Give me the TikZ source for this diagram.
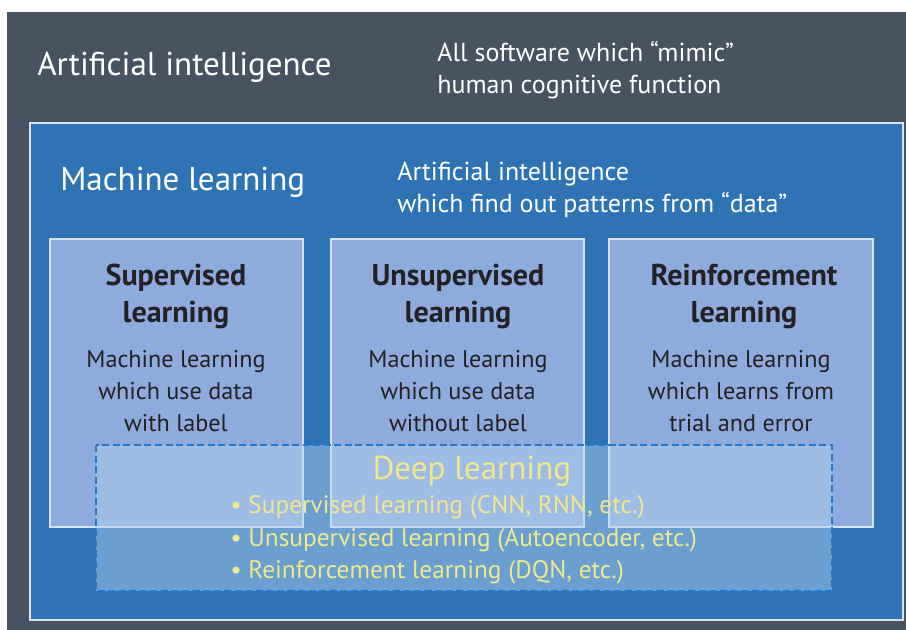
\documentclass[tikz,border=0pt]{standalone}
\usepackage{fontspec}
\setmainfont{PT Sans}
\usetikzlibrary{positioning}

\definecolor{aigray}{HTML}{475361}
\definecolor{mlblue}{HTML}{2E74B5}
\definecolor{boxblue}{HTML}{8FAADC}
\definecolor{dlline}{HTML}{1E7BD0}
\definecolor{dlfill}{HTML}{B4D4F2}
\definecolor{dltext}{HTML}{F0E88E}
\definecolor{edgeline}{HTML}{D6E2EE}
\definecolor{boxtext}{HTML}{222222}

\begin{document}
\begin{tikzpicture}
[x=0.025cm,y=-0.025cm,
 bigtext/.style={text=white,font=\fontsize{23.5}{27}\selectfont,inner sep=0pt},
 desctext/.style={text=white,font=\fontsize{18.5}{22.8}\selectfont,align=left,inner sep=0pt},
 lbox/.style={draw=edgeline,line width=1pt,fill=boxblue},
 boxtitle/.style={text=boxtext,font=\fontsize{21.4}{26.3}\selectfont\bfseries,align=center,inner sep=0pt},
 boxdesc/.style={text=boxtext,font=\fontsize{17.2}{22.8}\selectfont,align=center,inner sep=0pt},
 dlitem/.style={text=dltext,font=\fontsize{18}{23.1}\selectfont,align=left,inner sep=0pt}]
\useasboundingbox (0,0) rectangle (906,630);
\fill[white] (0,0) rectangle (906,630);
% regions
\fill[aigray] (7,12) rectangle (906,630);
\draw[lbox,fill=mlblue] (30,123) rectangle (903,620);
\draw[lbox] (50,239) rectangle (303,527);
\draw[lbox] (331,239) rectangle (584,527);
\draw[lbox] (609,239) rectangle (873,527);
\draw[dlline,dash pattern=on 5pt off 2.5pt,line width=1pt,fill=dlfill,fill opacity=0.45] (96,445) rectangle (832,591);

\node[bigtext,anchor=west] (ai) at (37,67) {Artificial intelligence};
\node[desctext,anchor=west] (aidesc) at (437,70) {All software which “mimic”\\human cognitive function};
\node[bigtext,anchor=west] (ml) at (60,182) {Machine learning};
\node[desctext,anchor=west] (mldesc) at (397,190) {Artificial intelligence\\which find out patterns from “data”};

\node[boxtitle] (sup) at (176,296) {Supervised\\learning};
\node[boxdesc] (supdesc) at (176,391) {Machine learning\\which use data\\with label};
\node[boxtitle] (unsup) at (458,296) {Unsupervised\\learning};
\node[boxdesc] (unsupdesc) at (458,391) {Machine learning\\which use data\\without label};
\node[boxtitle] (reinf) at (744,296) {Reinforcement\\learning};
\node[boxdesc] (reinfdesc) at (741,391) {Machine learning\\which learns from\\trial and error};

\node[bigtext,text=dltext] (dl) at (472,471) {Deep learning};
\node[dlitem,anchor=west] (dlitems) at (230,540) {• Supervised learning (CNN, RNN, etc.)\\• Unsupervised learning (Autoencoder, etc.)\\• Reinforcement learning (DQN, etc.)};
\end{tikzpicture}
\end{document}
